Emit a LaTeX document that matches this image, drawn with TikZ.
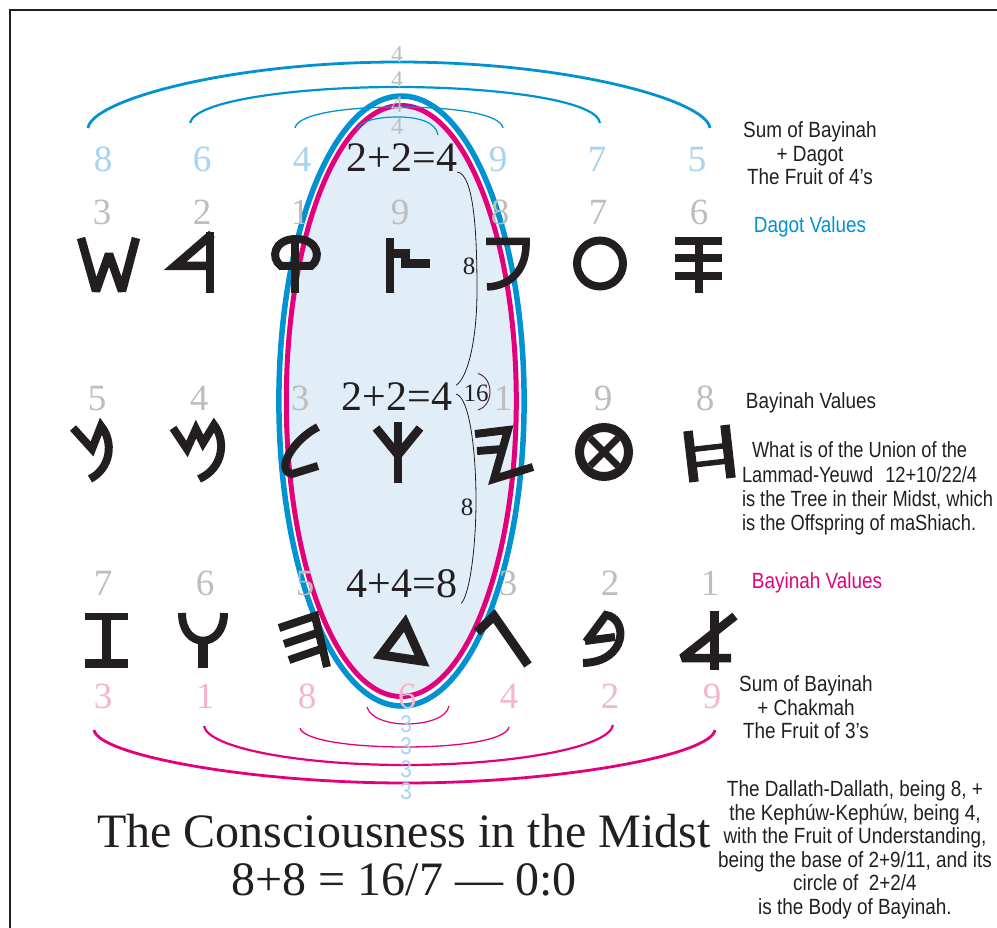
\documentclass[tikz,border=0pt]{standalone}
\usepackage{fontspec}
\setmainfont{Liberation Serif}
\newfontfamily\narrowsans[FakeStretch=0.86]{Liberation Sans}
\newfontfamily\narrowersans[FakeStretch=0.83]{Liberation Sans}
\usetikzlibrary{calc}
\definecolor{dagotblue}{HTML}{0092D1}
\definecolor{bayinahpink}{HTML}{E4007C}
\definecolor{midstfill}{HTML}{E1EEF8}
\definecolor{numgray}{HTML}{BDBDBD}
\definecolor{dagotlight}{HTML}{A5D3F0}
\definecolor{bayinahlight}{HTML}{F5B6CB}
\definecolor{inkblack}{HTML}{231F20}
\definecolor{archplum}{HTML}{5B2B4E}

\begin{document}
\begin{tikzpicture}[x=1pt,y=-1pt,every node/.style={inner sep=0pt,outer sep=0pt},
 glyph/.style={draw=inkblack,line width=8.5,line join=miter,miter limit=3},
 graynum/.style={anchor=base,text=numgray,font=\fontsize{37}{37}\selectfont},
 dagotnum/.style={graynum,text=dagotlight},
 bayinahnum/.style={graynum,text=bayinahlight},
 sumtext/.style={anchor=base,text=inkblack,font=\fontsize{42}{42}\selectfont},
 tally/.style={anchor=base,text=inkblack,font=\fontsize{25}{25}\selectfont},
 note/.style={text=inkblack,align=center,font=\narrowsans\fontsize{22}{23.5}\selectfont},
 headline/.style={anchor=base,text=inkblack,font=\fontsize{48}{48}\selectfont}]
\useasboundingbox (0,0) rectangle (997,928);
\draw[inkblack,line width=2.8] (10,928) -- (10,10) -- (997,10);

% the midst
\draw[dagotblue,line width=5.5] (401.5,401) ellipse [x radius=122.6pt,y radius=305pt];
\draw[bayinahpink,line width=5,fill=midstfill] (401.3,401) ellipse [x radius=115pt,y radius=295.5pt];

% arcs of the fruit
\draw[dagotblue,line width=2.8] (88,128) .. controls (92,100) and (230,62) .. (399,62) .. controls (568,62) and (706,100) .. (710,128);
\draw[dagotblue,line width=2.2] (190,123) .. controls (195,100) and (300,87) .. (397,87) .. controls (495,87) and (597,100) .. (600,123);
\draw[dagotblue,line width=1.3] (295,128) .. controls (298,113) and (350,107) .. (399,107) .. controls (450,107) and (500,113) .. (503,128);
\draw[dagotblue,line width=1.2] (357,130) .. controls (360,120) and (380,117) .. (398,117) .. controls (418,117) and (436,122) .. (438,135);
\draw[bayinahpink,line width=2.8] (94,730) .. controls (98,755) and (250,783) .. (405,783) .. controls (560,783) and (711,755) .. (715,730);
\draw[bayinahpink,line width=2.2] (204,726) .. controls (208,748) and (300,765) .. (405,765) .. controls (510,765) and (609,748) .. (613,725);
\draw[bayinahpink,line width=1.3] (300,728) .. controls (303,740) and (350,747) .. (405,747) .. controls (460,747) and (506,740) .. (509,727);
\draw[bayinahpink,line width=1.2] (367,707) .. controls (370,718) and (388,724) .. (406,724) .. controls (426,724) and (447,718) .. (449,706);

% values
\foreach \v/\x [count=\i] in {8/103,6/202,4/302,9/498,7/597,5/697} \node[dagotnum] (sd\i) at (\x,172) {\v};
\foreach \v/\x [count=\i] in {3/102,2/202,1/300,9/400,8/500,7/598,6/699} \node[graynum] (ra\i) at (\x,225) {\v};
\foreach \v/\x [count=\i] in {5/97,4/199,3/300,1/503,9/603,8/705} \node[graynum] (rb\i) at (\x,410) {\v};
\foreach \v/\x [count=\i] in {7/103,6/205,5/305,3/508,2/610,1/710} \node[graynum] (rc\i) at (\x,595) {\v};
\foreach \v/\x [count=\i] in {3/103,1/205,8/307,6/407,4/509,2/610,9/712} \node[bayinahnum] (sb\i) at (\x,708) {\v};
\foreach \y [count=\i] in {63,88,113,135} \node[anchor=base,text=numgray,font=\fontsize{24}{24}\selectfont] (four\i) at (397,\y) {4};
\foreach \y [count=\i] in {732,754,777,799} \node[anchor=base,text=dagotlight,font=\narrowsans\fontsize{24}{24}\selectfont] (three\i) at (406,\y) {3};

\node[sumtext] (eqtop) at (402,172) {2+2=4};
\node[sumtext] (eqmid) at (397,410) {2+2=4};
\node[sumtext] (eqlow) at (402,597) {4+4=8};
\coordinate (bulgeA) at (477,290);\coordinate (bulgeB) at (476,500);
\draw[inkblack,line width=0.8] (eqtop.south east) .. controls +(17,2) and +(0,-55) .. (bulgeA) .. controls +(0,55) and +(10,-6) .. ($(eqmid.north east)+(4,3)$);
\draw[inkblack,line width=0.8] ($(eqmid.east)+(4,-2)$) .. controls +(14,4) and +(0,-45) .. (bulgeB) .. controls +(0,50) and +(8,-8) .. ($(eqlow.south east)+(4,6)$);
\node[tally] (eightA) at (469,275) {8};
\node[tally] (eightB) at (467,515) {8};
\node[tally] (sixteen) at (476,402) {16};
\draw[archplum,line width=1] ($(sixteen.north)+(2,-12)$) .. controls +(16,5) and +(16,-5) .. ($(sixteen.base)+(2,8)$);

% letters, top row
\draw[glyph,line width=8.5] (81,238) -- (96,291) -- (109,254) -- (122,291) -- (136,238);
\draw[glyph] (210,232) -- (210,293);\draw[glyph] (212,234) -- (175,266) -- (210,266);
\draw[glyph] (295,236) -- (295,293);\draw[glyph,line width=8] (281,266) .. controls (270,258) and (274,239) .. (296,239) .. controls (318,239) and (322,258) .. (311,266) -- cycle;
\draw[glyph] (390,238) -- (390,293);\draw[glyph,line width=9] (390,254) -- (405,254) -- (405,264) -- (430,264);
\draw[glyph,line width=7.5] (486,241.5) -- (526,241.5) .. controls (527,268) and (512,286) .. (487,287);
\draw[glyph,line width=8] (600,263.5) circle [radius=23pt];
\foreach \y in {241,258,276} \draw[glyph,line width=7.5] (675,\y) -- (722,\y);
\draw[glyph,line width=8.5] (699,241) -- (699,293);

% letters, middle row
\draw[glyph,line width=8] (73,428) -- (92,449) -- (101,426) .. controls (114,442) and (111,468) .. (90,479);
\draw[glyph,line width=8] (173,428) -- (187,449) -- (196,429) -- (203,443) -- (214,425) .. controls (226,440) and (224,468) .. (199,479);
\draw[glyph,line width=8] (318,427) .. controls (293,440) and (275,470) .. (292,474) -- (318,466);
\draw[glyph] (398,422) -- (398,483);\draw[glyph] (376,428) -- (398,455) -- (420,428);
\draw[glyph,line width=8] (475,434) -- (508,430) -- (494,479) -- (533,467);\draw[glyph,line width=8] (477,451) -- (503,449);
\draw[glyph,line width=9] (604,452) circle [radius=24.5pt];
\draw[glyph,line width=7] (590,438) -- (618,466);\draw[glyph,line width=7] (618,438) -- (590,466);
\draw[glyph,line width=9.5] (688,431) -- (694,482);\draw[glyph,line width=9.5] (725,425) -- (731,478);
\draw[glyph,line width=5.5] (692,449.5) -- (727,445.5);\draw[glyph,line width=5.5] (693,465) -- (728,461);

% letters, lower row
\draw[glyph,line width=7] (85,616.5) -- (128,616.5);\draw[glyph,line width=9] (85,663.5) -- (128,663.5);\draw[glyph,line width=9] (106.5,616) -- (106.5,664);
\draw[glyph,line width=8] (182,613) .. controls (182,650) and (224,650) .. (224,613);\draw[glyph,line width=10] (203,640) -- (203,668);
\draw[glyph,line width=8] (279,628) -- (315,616) -- (327,667);\draw[glyph,line width=8] (284,644) -- (320,632);\draw[glyph,line width=8] (289,660) -- (324,648);
\draw[glyph,line width=9] (405,623) -- (381,655) -- (422,661) -- cycle;
\draw[glyph,line width=9] (477,632) -- (494,616) -- (528,665);
\draw[glyph,line width=8] (585,641) -- (615,637);\draw[glyph,line width=8] (586,642) -- (606,615) .. controls (628,618) and (628,662) .. (583,663);
\draw[glyph,line width=9] (714,611) -- (714,670);\draw[glyph,line width=8.5] (735,616) -- (682,658) -- (731,658);

% notes
\node[note,anchor=north] (sumdagot) at (810,122) {Sum of Bayinah\\+ Dagot\\The Fruit of 4’s};
\node[note,anchor=base,text=dagotblue] (dagotvalues) at (810,233) {Dagot Values};
\node[note,anchor=base] (bayinahvalues) at (811,408) {Bayinah Values};
\node[note,anchor=north west,align=left,font=\narrowersans\fontsize{22}{24.3}\selectfont] (unionnote) at (742,442) {\hspace{10pt}What is of the Union of the\\Lammad-Yeuwd\hspace{12pt}12+10/22/4\\is the Tree in their Midst, which\\is the Offspring of maShiach.};
\node[note,anchor=base,text=bayinahpink] (bayinahpinkvalues) at (817,588) {Bayinah Values};
\node[note,anchor=north] (sumchakmah) at (806,676) {Sum of Bayinah\\+ Chakmah\\The Fruit of 3’s};
\node[note,anchor=north] (bodynote) at (855,781) {The Dallath-Dallath, being 8, +\\the Kephúw-Kephúw, being 4,\\with the Fruit of Understanding,\\being the base of 2+9/11, and its\\circle of\ \ 2+2/4\\is the Body of Bayinah.};
\node[headline] (heading) at (404,847) {The Consciousness in the Midst};
\node[headline] (headsum) at (404,895) {8+8 = 16/7 — 0:0};
\end{tikzpicture}
\end{document}
